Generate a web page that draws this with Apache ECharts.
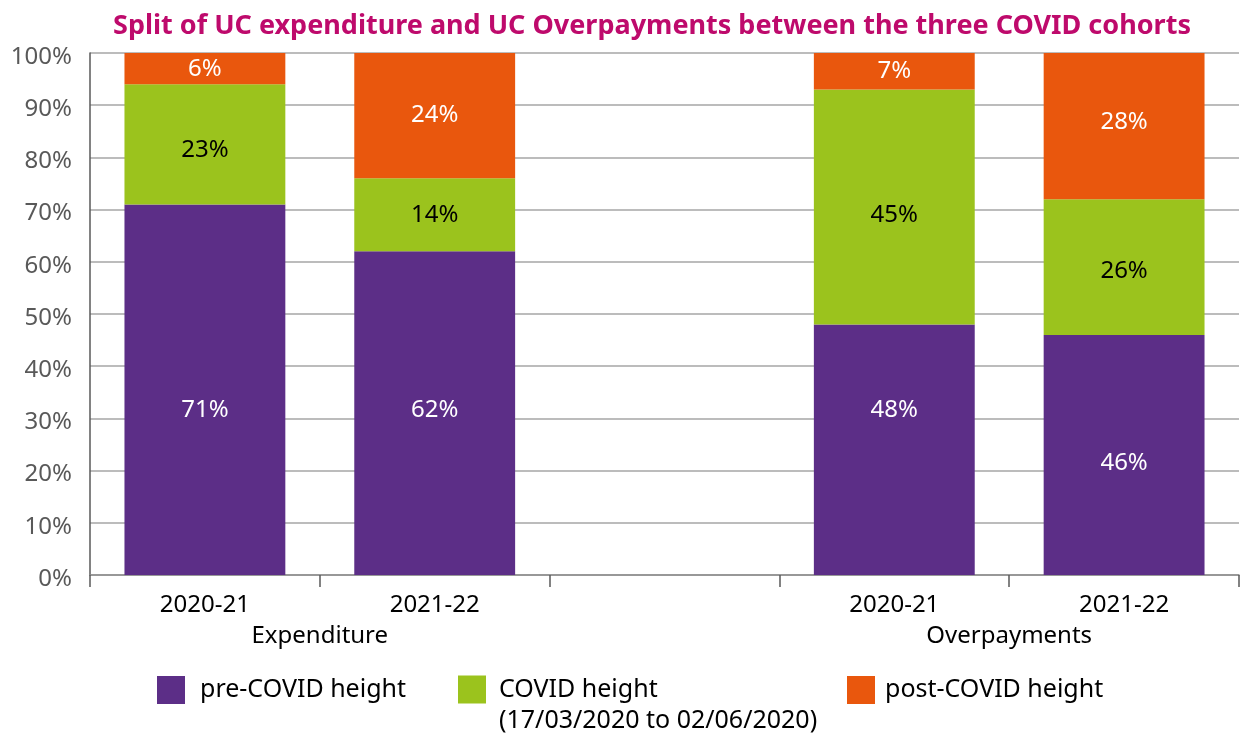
<!DOCTYPE html>
<html>
<head>
<meta charset="utf-8">
<script src="https://cdn.jsdelivr.net/npm/echarts@6/dist/echarts.min.js"></script>
<style>
  html, body { margin: 0; padding: 0; background: #fff; }
</style>
</head>
<body>
<div id="main" style="width: 1242px; height: 740px"></div>
<script>
// categories (third one is an empty spacer between the two groups)
var years = ['2020-21', '2021-22', '', '2020-21', '2021-22'];
var groupLabels = ['', 'Expenditure', '', '', 'Overpayments', ''];

// shares in %
var preCovid = [71, 62, null, 48, 46];
var covid = [23, 14, null, 45, 26];
var postCovid = [6, 24, null, 7, 28];

var yTicks = [0, 100, 10];

// label nudges (px) so labels sit where the original put them
var preOffsets = [20, -3, 0, -40, 8];
var covidOffsets = [6, 0, 0, 8, 4];
var postOffsets = [0, 0, 0, 0, -4];

var FONT = '"Noto Sans", sans-serif';

var chartDom = document.getElementById('main');
var myChart = echarts.init(chartDom);
var option;

function labelFor(color) {
    return {
        show: true,
        position: 'inside',
        color: color,
        fontFamily: FONT,
        fontSize: 24,
        formatter: function (p) { return p.value == null ? '' : p.value + '%'; }
    };
}

function withOffsets(values, offsets) {
    return values.map(function (v, i) {
        return { value: v, label: { offset: [0, offsets[i]] } };
    });
}

option = {
    animation: false,
    textStyle: { fontFamily: FONT },
    title: {
        text: 'Split of UC expenditure and UC Overpayments between the three COVID cohorts',
        left: 108,
        top: 8,
        textStyle: {
            color: '#BE0A6C',
            fontFamily: FONT,
            fontSize: 27,
            fontWeight: 'bold'
        }
    },
    grid: {
        left: 90,
        right: 2,
        top: 53,
        bottom: 165,
        containLabel: false
    },
    legend: [
        {
            data: ['pre-COVID height'],
            left: 152, top: 671,
            icon: 'rect',
            itemWidth: 28, itemHeight: 28,
            textStyle: { fontFamily: FONT, fontSize: 25, color: '#000', padding: [0, 0, 0, 10] }
        },
        {
            data: ['COVID height'],
            left: 453, top: 638,
            icon: 'rect',
            itemWidth: 28, itemHeight: 28,
            // blank first line keeps "COVID height" level with the swatch
            formatter: function (name) { return '\n' + name + '\n(17/03/2020 to 02/06/2020)'; },
            textStyle: { fontFamily: FONT, fontSize: 25, color: '#000', lineHeight: 31, padding: [0, 0, 0, 8] }
        },
        {
            data: ['post-COVID height'],
            left: 842, top: 671,
            icon: 'rect',
            itemWidth: 28, itemHeight: 28,
            textStyle: { fontFamily: FONT, fontSize: 25, color: '#000', padding: [0, 0, 0, 5] }
        }
    ],
    xAxis: [
        {
            type: 'category',
            data: years,
            axisLine: { show: true, lineStyle: { color: '#8c8c8c', width: 1.5 } },
            axisTick: { show: true, length: 12, interval: 0, lineStyle: { color: '#595959', width: 1.5 } },
            axisLabel: { interval: 0, margin: 18, color: '#000', fontFamily: FONT, fontSize: 24 },
            splitLine: { show: false }
        },
        {
            type: 'category',
            position: 'bottom',
            boundaryGap: false,
            data: groupLabels,
            axisLine: { show: false },
            axisTick: { show: false },
            axisLabel: { interval: 0, margin: 49, color: '#000', fontFamily: FONT, fontSize: 24 },
            splitLine: { show: false }
        }
    ],
    yAxis: {
        type: 'value',
        min: yTicks[0],
        max: yTicks[1],
        interval: yTicks[2],
        axisLine: { show: true, lineStyle: { color: '#595959', width: 1.5 } },
        axisTick: { show: false },
        axisLabel: {
            formatter: '{value}%',
            color: '#595959',
            fontFamily: FONT,
            fontSize: 24,
            margin: 18,
            verticalAlign: 'top',
            lineHeight: 8
        },
        splitLine: { show: true, lineStyle: { color: '#a6a6a6', width: 1.5 } }
    },
    series: [
        {
            name: 'pre-COVID height',
            type: 'bar',
            stack: 'total',
            barCategoryGap: '30%',
            itemStyle: { color: '#5C2E87' },
            label: labelFor('#fff'),
            data: withOffsets(preCovid, preOffsets)
        },
        {
            name: 'COVID height',
            type: 'bar',
            stack: 'total',
            itemStyle: { color: '#9BC31D' },
            label: labelFor('#000'),
            data: withOffsets(covid, covidOffsets)
        },
        {
            name: 'post-COVID height',
            type: 'bar',
            stack: 'total',
            itemStyle: { color: '#E9570D' },
            label: labelFor('#fff'),
            data: withOffsets(postCovid, postOffsets)
        }
    ]
};

option && myChart.setOption(option);
</script>
</body>
</html>
